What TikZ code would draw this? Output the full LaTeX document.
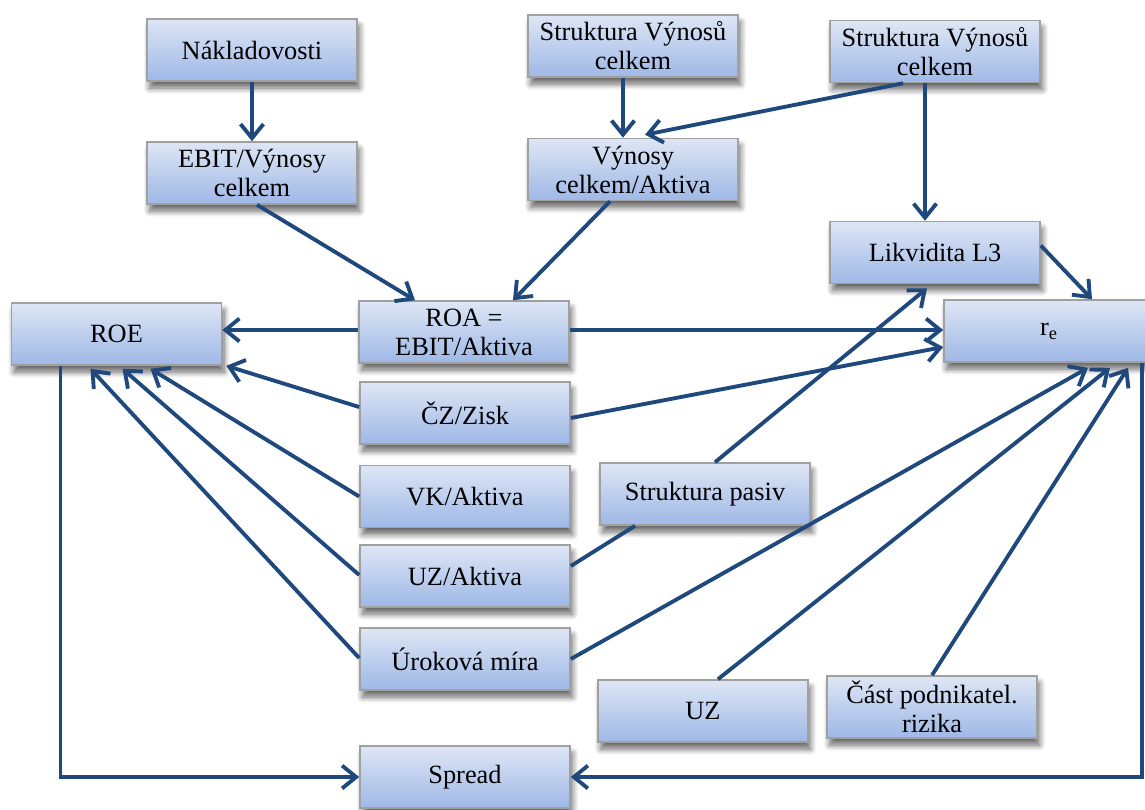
\documentclass[tikz,border=0pt]{standalone}
\usepackage{fontspec}
\setmainfont{Liberation Serif}
\newfontfamily\boxfont{Liberation Serif}
\usetikzlibrary{arrows.meta,positioning,calc,shadows.blur}
\definecolor{arrblue}{RGB}{31,73,125}
\definecolor{boxtop}{RGB}{222,230,245}
\definecolor{boxbot}{RGB}{158,184,230}
\definecolor{boxline}{RGB}{160,160,160}

\begin{document}
\begin{tikzpicture}[
  font=\boxfont\fontsize{15}{16.5}\selectfont,
  box/.style={draw=boxline, line width=0.9pt, top color=boxtop, bottom color=boxbot, minimum width=4.2cm, minimum height=1.24cm, inner sep=2pt, align=center, blur shadow={shadow xshift=0.05cm, shadow yshift=-0.14cm, shadow opacity=60, shadow blur steps=8, shadow blur radius=0.12cm}},
  ar/.style={-{Straight Barb[length=8pt,width=13pt]}, draw=arrblue, line width=2.2pt},
  ln/.style={draw=arrblue, line width=2.2pt}
]
\useasboundingbox (0,0) rectangle (22.9,-16.18);
\node[box] (nakl) at (5.04, -1.0) {Nákladovosti};
\node[box] (ebit) at (5.04, -3.46) {EBIT/Výnosy\\celkem};
\node[box] (strv1) at (12.66, -0.92) {Struktura Výnosů\\celkem};
\node[box] (vyn) at (12.66, -3.39) {Výnosy\\celkem/Aktiva};
\node[box] (strv2) at (18.70, -1.03) {Struktura Výnosů\\celkem};
\node[box] (likv) at (18.70, -5.05) {Likvidita L3};
\node[box] (roe) at (2.33, -6.68) {ROE};
\node[box] (roa) at (9.28, -6.64) {ROA =\\EBIT/Aktiva};
\node[box] (re) at (20.98, -6.62) {r\textsubscript{e}};
\node[box] (cz) at (9.30, -8.26) {ČZ/Zisk};
\node[box] (vk) at (9.30, -9.93) {VK/Aktiva};
\node[box] (uza) at (9.30, -11.52) {UZ/Aktiva};
\node[box] (urok) at (9.30, -13.18) {Úroková míra};
\node[box] (strp) at (14.10, -9.88) {Struktura pasiv};
\node[box] (uz) at (14.06, -14.22) {UZ};
\node[box] (cast) at (18.64, -14.14) {Část podnikatel.\\rizika};
\node[box] (spread) at (9.30, -15.54) {Spread};
% upper part
\draw[ar] (nakl) -- (ebit);
\draw[ar] ([xshift=-0.2cm]strv1.south) -- ([xshift=-0.2cm]vyn.north);
\draw[ar] ([xshift=-0.64cm]strv2.south) -- ([xshift=0.24cm,yshift=0.06cm]vyn.north);
\draw[ar] ([xshift=-0.2cm]strv2.south) -- ([xshift=-0.2cm]likv.north);
\draw[ar] ([xshift=0.1cm]ebit.south) -- ([xshift=-0.98cm]roa.north);
\draw[ar] ([xshift=-0.46cm]vyn.south) -- ([xshift=0.98cm]roa.north);
% into ROE and r_e
\draw[ar] ([yshift=0.04cm]roa.west) -- ([yshift=0.04cm]roa.west -| roe.east);
\draw[ar] ([yshift=0.04cm]roa.east) -- ([yshift=0.04cm]roa.east -| re.west);
\draw[ar] ([yshift=0.12cm]cz.west) -- ([xshift=0.08cm]roe.south east);
\draw[ar] ([yshift=-0.1cm]cz.east) -- ([yshift=-0.32cm]re.west);
\draw[ar] (vk.west) -- ([xshift=0.68cm,yshift=-0.06cm]roe.south);
\draw[ar] ([yshift=0.02cm]uza.west) -- ([xshift=0.12cm,yshift=-0.06cm]roe.south);
\draw[ar] ([yshift=0.02cm]urok.west) -- ([xshift=-0.52cm,yshift=-0.06cm]roe.south);
\draw[ar] ([xshift=0.2cm]strp.north) -- ([xshift=-0.16cm,yshift=-0.08cm]likv.south);
\draw[ln] ([yshift=0.2cm]uza.east) -- ([xshift=-1.4cm]strp.south);
\draw[ar] (urok.east) -- ([xshift=0.78cm,yshift=-0.1cm]re.south);
\draw[ar] ([xshift=0.3cm]uz.north) -- ([xshift=1.22cm,yshift=-0.1cm]re.south);
\draw[ar] (cast.north) -- ([xshift=1.58cm,yshift=-0.1cm]re.south);
\draw[ar] ([yshift=0.14cm]likv.east) -- ([xshift=0.86cm]re.north);
% spread
\draw[ar] ([xshift=-1.12cm]roe.south) |- (spread);
\draw[ar] ([xshift=1.86cm]re.south) |- (spread);
\end{tikzpicture}
\end{document}
